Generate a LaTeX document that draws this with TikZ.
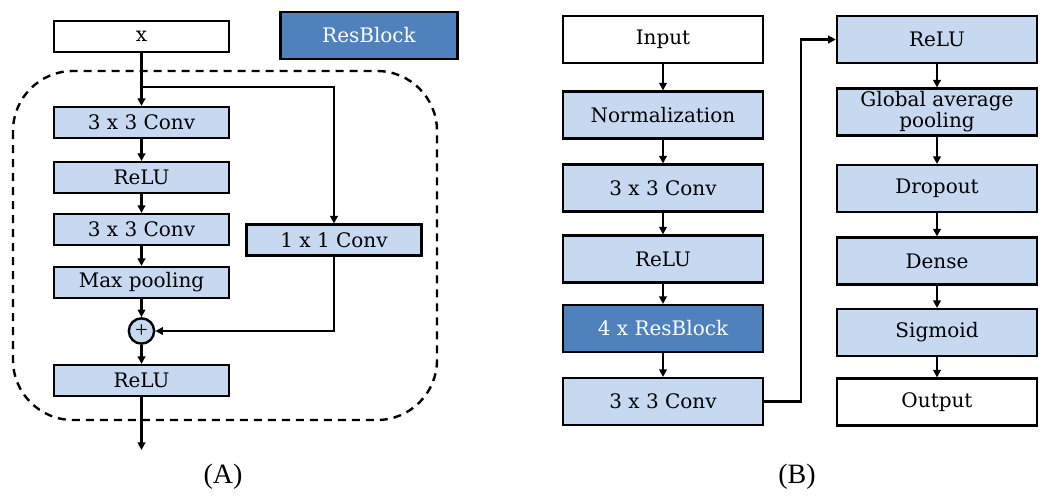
\documentclass[tikz,border=0pt]{standalone}
\usepackage{fontspec}
\setmainfont{Liberation Serif}
\newfontfamily\boxfont{DejaVu Serif}
\usepackage{tikz}
\usetikzlibrary{arrows.meta, positioning, calc}

\definecolor{cbox}{HTML}{C6D9F1}
\definecolor{cres}{HTML}{4F81BD}

\begin{document}
\begin{tikzpicture}[
    x=0.75pt, y=-0.75pt,
    >={Triangle[length=2mm, width=2mm]},
    ablk/.style={draw, line width=1.8pt, fill=cbox, align=center,
                 minimum width=131pt, minimum height=23pt,
                 font=\boxfont\fontsize{15}{15}\selectfont, inner sep=1pt},
    bblk/.style={ablk, minimum width=150pt, minimum height=35pt},
    arr/.style={->, line width=1.8pt},
    lbl/.style={font=\fontsize{21}{24}\selectfont},
]
\useasboundingbox (0,0) rectangle (1050,500);

% ---- (A) ResBlock ----
\node[ablk, fill=white]       (ax)  at (141.5, 36.5)  {x};
\node[ablk, fill=cres, text=white, minimum width=133pt, minimum height=35pt]
                              (leg) at (369, 35.5)    {ResBlock};
\draw[line width=1.8pt, dash pattern=on 6pt off 4.5pt, rounded corners=45]
    (13,71) rectangle (437,420);
\node[ablk]                   (ac1) at (141.5, 122.5) {3 x 3 Conv};
\node[ablk]                   (ar1) at (141.5, 177.5) {ReLU};
\node[ablk]                   (ac2) at (141.5, 229.5) {3 x 3 Conv};
\node[ablk]                   (amp) at (141.5, 282.5) {Max pooling};
\node[ablk]                   (ac3) at (334, 240)     {1 x 1 Conv};
\node[draw, circle, line width=1.8pt, fill=cbox, minimum size=19pt, inner sep=0pt,
      font=\fontsize{17}{17}\selectfont]
                              (add) at (141.5, 331)   {+};
\node[ablk]                   (ar2) at (141.5, 380.5) {ReLU};
\coordinate (split) at (141.5, 87);
\coordinate (aout)  at (141.5, 450);

\draw[arr] (ax) -- (ac1);
\draw[arr] (split) -| (ac3);
\draw[arr] (ac1) -- (ar1);
\draw[arr] (ar1) -- (ac2);
\draw[arr] (ac2) -- (amp);
\draw[arr] (amp) -- (add);
\draw[arr] (ac3) |- (add);
\draw[arr] (add) -- (ar2);
\draw[arr] (ar2) -- (aout);

\node[lbl] (capa) at (223, 477) {(A)};

% ---- (B) full network ----
\node[bblk, fill=white] (bin)  at (663, 39.5)  {Input};
\node[bblk]             (bnrm) at (663, 115)   {Normalization};
\node[bblk]             (bc1)  at (663, 188)   {3 x 3 Conv};
\node[bblk]             (br1)  at (663, 259)   {ReLU};
\node[bblk, fill=cres, text=white] (bres) at (663, 328.5) {4 x ResBlock};
\node[bblk]             (bc2)  at (663, 401.5) {3 x 3 Conv};

\node[bblk]             (br2)  at (937, 39.5)  {ReLU};
\node[bblk, font=\boxfont\fontsize{15}{14.5}\selectfont]
                        (bgap) at (937, 112)   {Global average\\pooling};
\node[bblk]             (bdrp) at (937, 188.5) {Dropout};
\node[bblk]             (bden) at (937, 261)   {Dense};
\node[bblk]             (bsig) at (937, 332.5) {Sigmoid};
\node[bblk, fill=white] (bout) at (937, 402)   {Output};

\draw[arr] (bin) -- (bnrm);
\draw[arr] (bnrm) -- (bc1);
\draw[arr] (bc1) -- (br1);
\draw[arr] (br1) -- (bres);
\draw[arr] (bres) -- (bc2);
\draw[arr] (bc2.east) -- ++(37,0) |- (br2.west);
\draw[arr] (br2) -- (bgap);
\draw[arr] (bgap) -- (bdrp);
\draw[arr] (bdrp) -- (bden);
\draw[arr] (bden) -- (bsig);
\draw[arr] (bsig) -- (bout);

\node[lbl] (capb) at (797, 477) {(B)};
\end{tikzpicture}
\end{document}
